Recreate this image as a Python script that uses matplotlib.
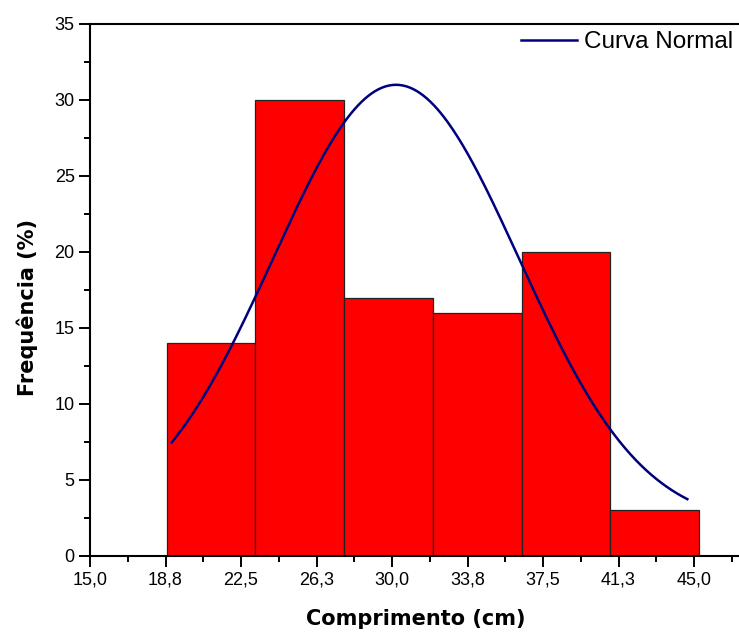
import numpy as np
import matplotlib
matplotlib.use("Agg")
import matplotlib.pyplot as plt
from matplotlib.ticker import MultipleLocator

plt.rcParams["font.family"] = ["Liberation Sans", "DejaVu Sans"]

# histogram data (percent per bin)
bin_edges = [18.8, 23.21, 27.62, 32.03, 36.44, 40.85, 45.26]
freq = [14, 30, 17, 16, 20, 3]

# normal (gaussian) curve parameters
curve_mu = 30.2
curve_sigma = 6.1
curve_amp = 29.0
curve_offset = 2.0
curve_range = (19.06, 44.67)

x_ticks = [15.0, 18.75, 22.5, 26.25, 30.0, 33.75, 37.5, 41.25, 45.0]
x_labels = ["15,0", "18,8", "22,5", "26,3", "30,0", "33,8", "37,5", "41,3", "45,0"]
y_ticks = [0, 5, 10, 15, 20, 25, 30, 35]

W, H = 739, 632
fig = plt.figure(figsize=(W / 100, H / 100), dpi=100)
x0, x1 = 15.0, 48.75
px_per_unit = (694 - 90) / 30.0
ax_w = (x1 - x0) * px_per_unit
ax = fig.add_axes([90 / W, 1 - 556 / H, ax_w / W, (556 - 24) / H])

widths = np.diff(bin_edges)
ax.bar(bin_edges[:-1], freq, width=widths, align="edge",
       color="#ff0000", edgecolor="#222222", linewidth=0.9, zorder=2)

xs = np.linspace(curve_range[0], curve_range[1], 300)
ys = curve_offset + curve_amp * np.exp(-(xs - curve_mu) ** 2 / (2 * curve_sigma ** 2))
ax.plot(xs, ys, color="#00007f", lw=1.8, label="Curva Normal", zorder=3)

ax.set_xlim(x0, x1)
ax.set_ylim(0, 35)
ax.set_xticks(x_ticks)
ax.set_xticklabels(x_labels)
ax.set_yticks(y_ticks)
ax.xaxis.set_minor_locator(MultipleLocator(1.875))
ax.yaxis.set_minor_locator(MultipleLocator(2.5))
ax.tick_params(which="major", direction="out", length=8, width=1.4,
               labelsize=13, pad=3)
ax.tick_params(which="minor", direction="out", length=4, width=1.4)
ax.tick_params(axis="x", which="both", top=False)
for s in ax.spines.values():
    s.set_linewidth(1.5)

fig.text(416 / W, 1 - 619 / H, "Comprimento (cm)", fontsize=15,
         fontweight="bold", family="DejaVu Sans", ha="center", va="center")
fig.text(27 / W, 1 - 308 / H, "Frequência (%)", fontsize=15,
         fontweight="bold", family="DejaVu Sans", ha="center", va="center",
         rotation=90)

fig.legend(loc="upper left", bbox_to_anchor=(521 / W, 1 - 31 / H),
           frameon=False, fontsize=17.5, handlelength=2.3, handletextpad=0.3,
           borderpad=0, borderaxespad=0)

fig.savefig("out.png", dpi=100)
